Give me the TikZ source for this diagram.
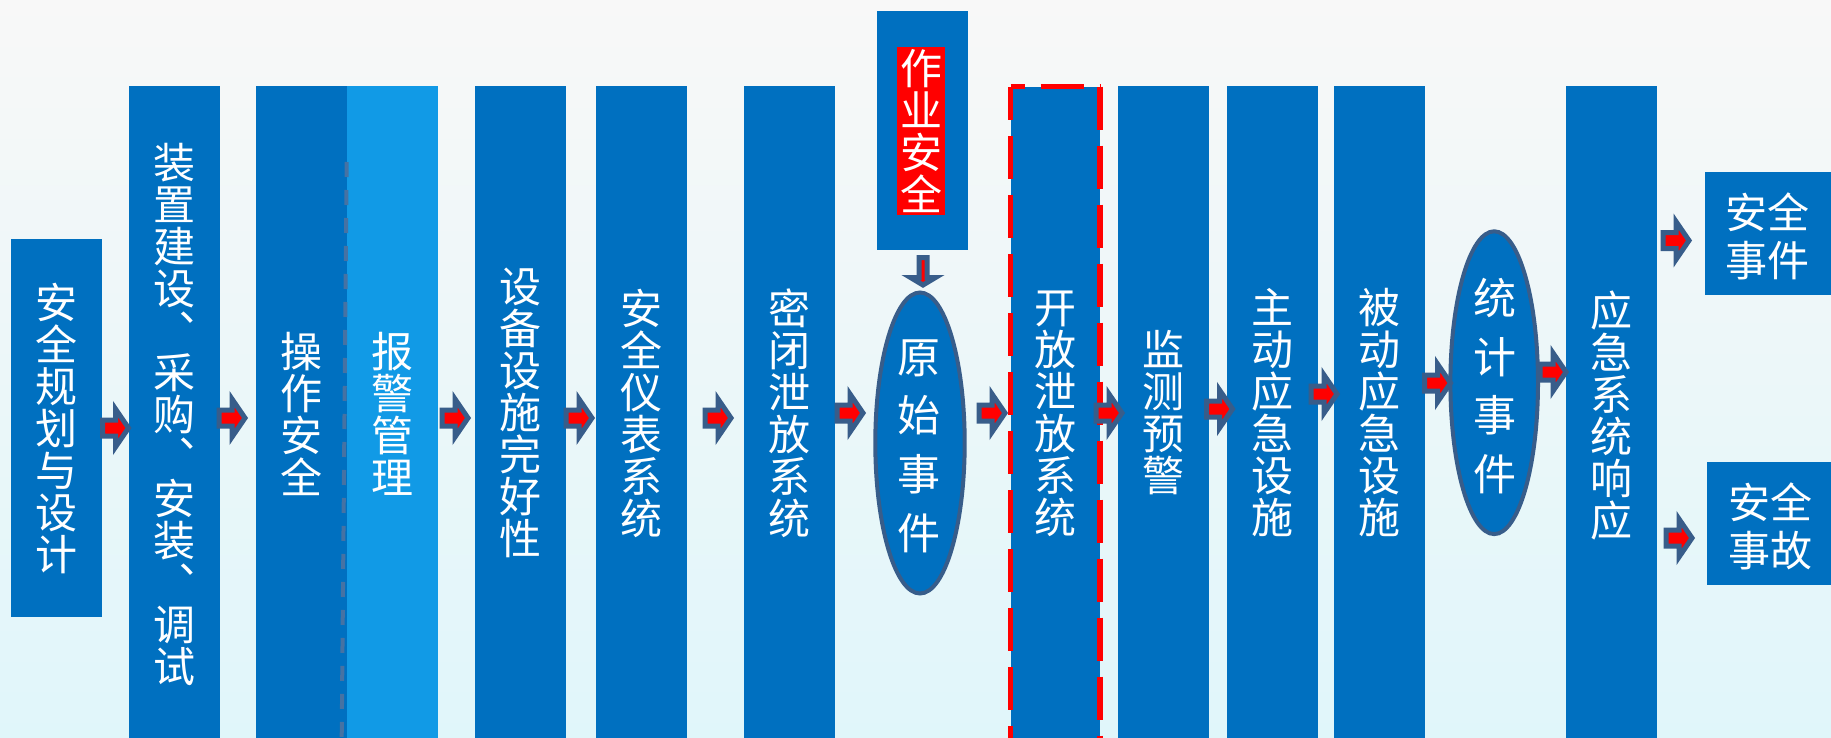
\documentclass[tikz,border=0pt]{standalone}
\usepackage{fontspec}
\newfontfamily\cjk{Noto Sans CJK SC}
\usetikzlibrary{shapes.geometric}
\definecolor{pblue}{HTML}{0070C0}
\definecolor{lblue}{HTML}{119AE6}
\definecolor{aline}{HTML}{385D8A}
\definecolor{bgtop}{HTML}{F8F8F8}
\definecolor{bgmid}{HTML}{F3F4F4}
\definecolor{bgbot}{HTML}{E0F6FA}
\definecolor{dline}{HTML}{4672A3}
\tikzset{
  bx/.style={fill=pblue, draw=none, inner sep=0pt, outer sep=0pt},
  tall/.style={bx, minimum width=45.5pt, minimum height=329.5pt},
  vt/.style={text=white, font=\cjk\fontsize{21pt}{21pt}\selectfont, align=center, inner sep=0pt},
  et/.style={text=white, font=\cjk\fontsize{21.5pt}{29.3pt}\selectfont, align=center, inner sep=0pt},
  ht/.style={text=white, font=\cjk\fontsize{21pt}{24pt}\selectfont, align=center, inner sep=0pt},
  ell/.style={ellipse, fill=pblue, draw=aline, line width=2pt, inner sep=0pt},
  reddash/.style={draw=red, line width=2.75pt, dash pattern=on 21.5pt off 8pt},
  barrow/.pic={\draw[fill=red, draw=aline, line width=2.5pt] (-13,-8) -- (0,-8) -- (0,-19) -- (13,0) -- (0,19) -- (0,8) -- (-13,8) -- cycle;},
  darrow/.pic={\draw[fill=red, draw=aline, line width=2.5pt] (-4,-13.5) -- (4,-13.5) -- (4,6.5) -- (12.5,6.5) -- (0,14) -- (-12.5,6.5) -- (-4,6.5) -- cycle;},
}
\begin{document}
\begin{tikzpicture}[x=0.5pt,y=-0.5pt]
\useasboundingbox (0,0) rectangle (1831,738);
\clip (0,0) rectangle (1831,738);
\shade[top color=bgtop, middle color=bgmid, bottom color=bgbot] (0,0) rectangle (1831,738);

% boxes
\node[bx, minimum width=45.5pt, minimum height=189pt] (b1) at (56.5,428) {};
\node[tall] (b2) at (174.5,415.5) {};
\node[tall] (b3) at (301.5,415.5) {};
\node[tall, fill=lblue] (b4) at (392.5,415.5) {};
\node[tall] (b5) at (520.5,415.5) {};
\node[tall] (b6) at (641.5,415.5) {};
\node[tall] (b7) at (789.5,415.5) {};
\node[bx, minimum width=45.5pt, minimum height=119.5pt] (b8) at (922.5,130.5) {};
\node[fill=red, inner sep=0pt, minimum width=24pt, minimum height=84pt, vt] (r8) at (921,131) {作\\业\\安\\全};
\node[ell, minimum width=44.7pt, minimum height=150.5pt] (e1) at (920,443) {};
\node[bx, minimum width=44.75pt, minimum height=329.15pt] (b9) at (1055.45,415.85) {};
\draw[reddash, dash phase=5pt] (b9.north west) -- (b9.south west);
\draw[reddash, dash phase=14.5pt] (b9.north west) -- (b9.north east);
\draw[reddash] (b9.north east) -- (b9.south east);
\node[tall] (b10) at (1163.5,415.5) {};
\node[tall] (b11) at (1272.5,415.5) {};
\node[tall] (b12) at (1379.5,415.5) {};
\node[ell, minimum width=43.8pt, minimum height=151.4pt] (e2) at (1494.2,382.7) {};
\node[tall] (b13) at (1611.5,415.5) {};
\node[bx, minimum width=65pt, minimum height=61.5pt] (b14) at (1770,233.5) {};
\node[bx, minimum width=64pt, minimum height=61.5pt] (b15) at (1771,523.5) {};

% divider between 操作安全 and 报警管理
\draw[dline, line width=2pt, dash pattern=on 7.5pt off 6.5pt] (346.7,162) -- (341.7,738);

% texts
\node[vt] (t1) at (56.5,428) {安\\全\\规\\划\\与\\设\\计};
\node[vt] (t2) at (174.5,414) {装\\置\\建\\设\\︑\\采\\购\\︑\\安\\装\\︑\\调\\试};
\node[vt] (t3) at (301,414) {操\\作\\安\\全};
\node[vt] (t4) at (392,414) {报\\警\\管\\理};
\node[vt] (t5) at (520.5,413) {设\\备\\设\\施\\完\\好\\性};
\node[vt] (t6) at (641,413) {安\\全\\仪\\表\\系\\统};
\node[vt] (t7) at (789.5,413) {密\\闭\\泄\\放\\系\\统};
\node[et] (te1) at (919,446) {原\\始\\事\\件};
\node[vt] (t9) at (1055,414) {开\\放\\泄\\放\\系\\统};
\node[vt] (t10) at (1163.5,413) {监\\测\\预\\警};
\node[vt] (t11) at (1272,413) {主\\动\\应\\急\\设\\施};
\node[vt] (t12) at (1379.5,413) {被\\动\\应\\急\\设\\施};
\node[et] (te2) at (1495,386) {统\\计\\事\\件};
\node[vt] (t13) at (1611,416) {应\\急\\系\\统\\响\\应};
\node[ht] (t14) at (1767.5,236) {安全\\事件};
\node[ht] (t15) at (1770,526) {安全\\事故};

% block arrows
\pic at (115.5,428) {barrow};
\pic at (232,418) {barrow};
\pic at (455,418) {barrow};
\pic at (579,418) {barrow};
\pic at (718,418) {barrow};
\pic at (850,413) {barrow};
\pic at (992,413) {barrow};
\pic at (1109,413) {barrow};
\pic at (1219.5,409) {barrow};
\pic at (1324,394) {barrow};
\pic at (1437.5,383) {barrow};
\pic at (1553,372) {barrow};
\pic at (1676,240.5) {barrow};
\pic at (1679,538) {barrow};
\pic at (923,271) {darrow};
\end{tikzpicture}
\end{document}
